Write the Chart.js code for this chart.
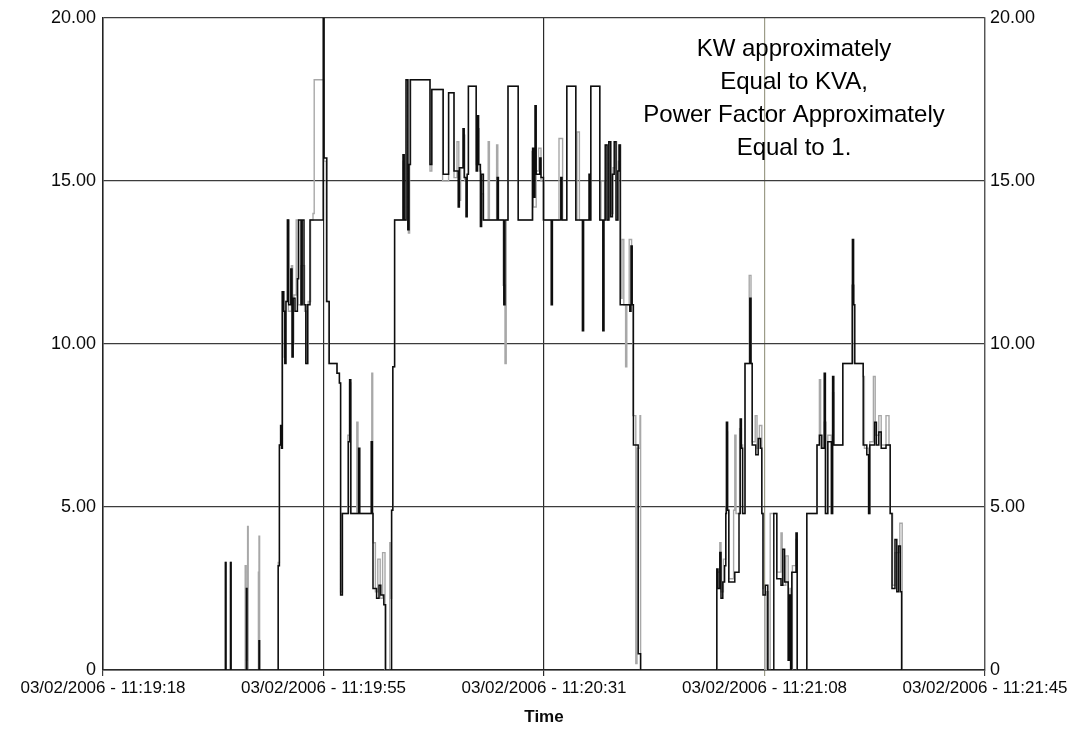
<!DOCTYPE html>
<html lang="en">
<head>
  <meta charset="UTF-8">
  <title>KW / KVA</title>
  <style>
    body {
      margin: 0;
      background-color: #fff;
    }
    #powerChart {
      display: block;
    }
  </style>
</head>
<body>

  <canvas id="powerChart" width="1087" height="732"></canvas>

  <script src="https://cdn.jsdelivr.net/npm/chart.js"></script>
  <script>
    // seconds after 11:19:18, value  (value holds until the next sample)
    const kwSamples = [
      [0, 0],
      [20.4, 3.3], [20.5, 0], [21.25, 3.3], [21.35, 0],
      [23.9, 2.5], [24.0, 0], [26.0, 0.9], [26.1, 0],
      [29.2, 3.2], [29.4, 6.9], [29.6, 7.5], [29.75, 6.8],
      [29.9, 11.6], [30.1, 11.0], [30.3, 9.4], [30.5, 11.3], [30.75, 13.8], [30.95, 11.2], [31.3, 12.3],
      [31.5, 9.6], [31.7, 11.4], [32.0, 11.0], [32.4, 12.0], [32.6, 13.8], [33.0, 11.2], [33.2, 13.8],
      [33.5, 11.2], [33.8, 9.4], [34.1, 11.2], [34.5, 13.8],
      [36.7, 20], [36.85, 15.7], [37.3, 11.3], [37.7, 9.4], [39.0, 9.1], [39.4, 8.8], [39.6, 2.3], [39.9, 4.8],
      [40.9, 7.0], [41.1, 8.9], [41.3, 4.8], [42.6, 6.8], [42.8, 4.8], [44.7, 7.0], [44.9, 4.8],
      [45.0, 2.5], [45.6, 2.2], [46.0, 2.6], [46.3, 2.3], [46.8, 2.0], [47.1, 0],
      [48.1, 4.9], [48.3, 9.3], [48.6, 13.8],
      [50.0, 15.8], [50.2, 13.8], [50.5, 18.1], [50.8, 13.5], [51.0, 15.5], [51.2, 18.1],
      [54.5, 15.5], [54.8, 17.8],
      [56.7, 15.2], [57.6, 17.7], [58.5, 15.3], [59.2, 14.2], [59.4, 15.4], [60.0, 16.6], [60.2, 15.1],
      [60.5, 13.9], [60.7, 15.2],
      [60.9, 17.9], [62.2, 15.3], [62.4, 17.0], [62.6, 15.5], [62.9, 13.6], [63.1, 15.2], [63.4, 13.8],
      [65.7, 15.1], [65.9, 13.8], [66.8, 11.2], [67.0, 13.8],
      [67.5, 17.9], [69.2, 13.8],
      [71.6, 16.0], [71.8, 14.5], [72.0, 17.3], [72.2, 15.2], [72.8, 15.7], [73.0, 15.1], [73.4, 13.8],
      [74.7, 11.2], [74.9, 13.8], [76.3, 15.1], [76.5, 13.8],
      [77.3, 17.9], [78.8, 13.8],
      [79.9, 10.4], [80.1, 13.8], [81.0, 15.2], [81.15, 13.8],
      [81.3, 17.9], [82.8, 13.8], [83.3, 10.4], [83.5, 13.8],
      [83.7, 16.1], [84.0, 13.8], [84.3, 16.2], [84.6, 13.9], [84.9, 15.2], [85.2, 16.2], [85.5, 13.8],
      [85.8, 15.3], [86.0, 16.1], [86.2, 11.2],
      [87.8, 11.0], [88.0, 13.0], [88.2, 11.2],
      [88.4, 6.9], [89.2, 0.5], [89.6, 0],
      [102.3, 3.1], [102.5, 2.5], [102.8, 3.6], [103.0, 2.2], [103.3, 2.7], [103.6, 3.2],
      [103.8, 4.8], [103.9, 7.6], [104.1, 4.9], [104.3, 2.7], [105.3, 3.0], [106.0, 4.8], [106.2, 7.7],
      [106.4, 6.8], [106.6, 4.8],
      [107.0, 9.4], [107.8, 11.4], [108.0, 9.4], [108.2, 6.9], [108.8, 6.6], [109.2, 7.1], [109.6, 6.8],
      [109.8, 4.8], [110.0, 2.3], [110.4, 2.6], [110.8, 0],
      [111.8, 4.8], [112.3, 2.8], [113.0, 2.6], [113.3, 3.7], [113.6, 2.7], [114.2, 0.3], [114.4, 2.3],
      [114.6, 0], [114.8, 3.0], [115.5, 4.2], [115.7, 0],
      [117.3, 4.8], [119.0, 6.9], [119.4, 7.2], [119.8, 6.8], [120.2, 9.1], [120.4, 4.8], [120.8, 7.0],
      [121.4, 4.8], [121.6, 9.0], [121.8, 6.9],
      [123.3, 9.4], [124.9, 13.2], [125.1, 11.2], [125.3, 9.4],
      [126.7, 6.9], [127.3, 6.6], [127.6, 4.8], [127.8, 6.9], [128.6, 7.6], [128.9, 6.9], [129.3, 7.3],
      [129.7, 6.8], [130.5, 6.9], [131.2, 4.8],
      [131.5, 2.5], [132.0, 4.0], [132.3, 2.4], [132.6, 3.8], [132.9, 2.4], [133.1, 0],
      [147, 0]
    ];

    const kvaSamples = [
      [0, 0],
      [20.4, 3.3], [20.5, 0], [21.25, 3.3], [21.35, 0],
      [23.7, 3.2], [23.85, 0.3], [24.1, 4.4], [24.2, 0],
      [25.9, 3.0], [26.0, 4.1], [26.1, 0],
      [29.2, 3.3], [29.4, 6.9], [29.8, 11.6], [30.2, 9.6], [30.4, 11.3], [30.7, 13.8], [30.9, 11.0],
      [31.4, 12.4], [31.6, 10.0], [31.8, 11.5], [32.2, 13.8], [32.5, 11.2], [33.0, 12.4], [33.6, 11.0],
      [34.0, 9.4], [34.2, 11.3], [34.6, 13.8], [35.0, 14.0], [35.2, 18.1], [36.8, 15.6], [37.2, 11.3],
      [37.6, 9.4],
      [39.0, 9.1], [39.4, 8.8], [39.6, 2.4], [39.9, 4.8],
      [40.8, 7.2], [41.1, 8.8], [41.3, 4.8], [42.3, 7.6], [42.5, 4.8], [44.8, 9.1], [44.95, 4.8],
      [45.0, 3.9], [45.4, 2.4], [45.8, 3.4], [46.2, 2.2], [46.6, 3.6], [47.0, 0],
      [47.8, 3.9], [48.0, 2.2], [48.1, 4.9], [48.3, 9.3], [48.6, 13.8],
      [50.0, 15.6], [50.2, 13.8], [50.6, 18.1], [50.9, 13.4], [51.1, 15.5], [51.3, 18.1],
      [54.5, 15.3], [54.8, 17.8],
      [56.6, 15.0], [57.6, 17.7], [58.5, 15.1], [59.0, 16.2], [59.3, 14.4], [59.6, 15.4], [60.1, 16.4],
      [60.3, 15.0], [60.7, 15.2],
      [60.9, 17.9], [62.2, 15.5], [62.5, 16.6], [62.7, 15.3], [63.0, 14.6], [63.4, 13.8],
      [64.2, 16.2], [64.4, 13.8], [65.6, 16.1], [65.8, 13.8], [66.7, 11.8], [67.0, 9.4], [67.2, 13.8],
      [67.5, 17.9], [69.2, 13.8],
      [71.5, 15.9], [71.7, 14.2], [72.2, 15.3], [72.6, 16.0], [73.0, 15.0], [73.5, 13.8],
      [76.0, 16.3], [76.6, 13.8],
      [77.3, 17.9], [78.8, 13.8], [79.0, 16.5], [79.4, 13.8],
      [81.3, 17.9], [82.8, 13.8], [83.0, 15.0], [83.6, 13.8],
      [83.8, 16.1], [84.1, 13.8], [84.4, 16.2], [84.7, 14.0], [85.0, 15.4], [85.3, 16.2], [85.6, 13.8],
      [85.9, 15.6], [86.1, 16.1], [86.3, 11.4],
      [86.5, 13.2], [86.8, 11.2], [87.1, 9.3], [87.3, 11.2], [87.7, 13.2], [88.1, 11.2],
      [88.3, 7.8], [88.8, 0.2], [89.0, 6.8], [89.5, 7.8], [89.6, 0],
      [102.3, 3.0], [102.8, 3.9], [103.0, 2.4], [103.4, 3.4], [103.8, 5.0], [103.95, 7.3], [104.1, 4.9],
      [104.3, 2.8], [105.1, 4.9], [105.3, 7.2], [105.5, 4.8], [106.1, 7.4], [106.4, 6.9], [106.6, 4.8],
      [107.0, 9.4], [107.7, 12.1], [108.0, 9.4], [108.2, 7.0], [108.7, 7.8], [109.0, 6.8], [109.4, 7.5],
      [109.8, 4.8], [110.0, 2.5], [110.3, 0], [110.6, 2.4], [110.9, 0],
      [111.2, 4.8], [112.3, 3.0], [113.0, 4.2], [113.2, 2.6], [113.8, 3.5], [114.2, 0.3], [114.5, 2.5],
      [114.7, 0], [114.9, 3.2], [115.5, 4.0], [115.7, 0],
      [117.3, 4.8], [119.0, 6.9], [119.4, 8.9], [119.6, 6.8], [120.2, 7.6], [120.5, 4.8], [120.8, 7.2],
      [121.4, 4.8], [121.6, 8.5], [121.8, 6.9],
      [123.3, 9.4], [124.8, 11.8], [125.2, 9.4],
      [126.7, 9.0], [126.9, 6.8], [127.6, 4.8], [127.8, 7.0], [128.4, 9.0], [128.7, 7.2], [129.3, 7.8],
      [129.7, 6.9], [130.5, 7.8], [131.0, 6.9], [131.2, 4.8],
      [131.6, 2.6], [132.0, 3.6], [132.8, 4.5], [133.2, 0],
      [147, 0]
    ];

    const xTickSeconds = [0, 36.75, 73.5, 110.25, 147];
    const xTickLabels = [
      '03/02/2006 - 11:19:18',
      '03/02/2006 - 11:19:55',
      '03/02/2006 - 11:20:31',
      '03/02/2006 - 11:21:08',
      '03/02/2006 - 11:21:45'
    ];
    const yTickValues = [0, 5, 10, 15, 20];
    const yTickLabels = ['0', '5.00', '10.00', '15.00', '20.00'];
    const noteLines = [
      'KW approximately',
      'Equal to KVA,',
      'Power Factor Approximately',
      'Equal to 1.'
    ];

    const FONT = 'Arial, "Liberation Sans", sans-serif';
    Chart.defaults.font.family = FONT;
    Chart.defaults.color = '#0a0a0a';

    function toPoints(samples) {
      return samples.map(([x, y]) => ({ x, y }));
    }

    function yLabel(value) {
      const i = yTickValues.indexOf(value);
      return i >= 0 ? yTickLabels[i] : '';
    }

    // text box in the upper right of the plot
    const notePlugin = {
      id: 'note',
      afterDatasetsDraw(chart) {
        const { ctx, chartArea } = chart;
        ctx.save();
        ctx.font = '24px ' + FONT;
        ctx.fillStyle = '#000';
        ctx.textAlign = 'center';
        ctx.textBaseline = 'middle';
        const cx = chartArea.left + 691;
        noteLines.forEach((line, i) => {
          ctx.fillText(line, cx, chartArea.top + 32 + i * 33);
        });
        ctx.restore();
      }
    };

    const gridColor = '#3c3c3c';
    // the last inner time line is printed lighter
    const xGridColors = ['#3c3c3c', '#2a2a2a', '#2a2a2a', '#9c9c88', '#3c3c3c'];

    new Chart(document.getElementById('powerChart'), {
      type: 'line',
      data: {
        datasets: [
          {
            label: 'KW',
            data: toPoints(kwSamples),
            borderColor: '#0d0d0d',
            borderWidth: 1.5,
            stepped: true,
            pointRadius: 0,
            fill: false
          },
          {
            label: 'KVA',
            data: toPoints(kvaSamples),
            borderColor: '#a8a8a8',
            borderWidth: 1.4,
            stepped: true,
            pointRadius: 0,
            fill: false
          }
        ]
      },
      options: {
        responsive: false,
        animation: false,
        layout: { padding: { top: 15, left: 0, right: 0, bottom: 0 } },
        plugins: {
          legend: { display: false },
          tooltip: { enabled: false }
        },
        scales: {
          x: {
            type: 'linear',
            min: 0,
            max: 147,
            afterBuildTicks(scale) {
              scale.ticks = xTickSeconds.map(v => ({ value: v }));
            },
            afterFit(scale) {
              scale.height = 62;
              scale.paddingLeft = 0;
              scale.paddingRight = 0;
            },
            ticks: {
              autoSkip: false,
              maxRotation: 0,
              padding: 2,
              font: { size: 17 },
              callback: (value, i) => xTickLabels[i]
            },
            grid: {
              color: ctx => xGridColors[ctx.index] || gridColor,
              lineWidth: 1.2,
              tickLength: 6
            },
            border: { color: '#222', width: 1.5 },
            title: {
              display: true,
              text: 'Time',
              font: { size: 17, weight: 'bold' },
              padding: { top: 0, bottom: 4 }
            }
          },
          y: {
            position: 'left',
            min: 0,
            max: 20,
            afterFit(scale) { scale.width = 103; },
            ticks: { stepSize: 5, padding: 7, font: { size: 18 }, callback: yLabel },
            grid: { color: gridColor, lineWidth: 1.3, drawTicks: false },
            border: { color: '#222', width: 1.5 }
          },
          y2: {
            position: 'right',
            min: 0,
            max: 20,
            afterFit(scale) { scale.width = 102; },
            ticks: { stepSize: 5, padding: 5, font: { size: 18 }, callback: yLabel },
            grid: { display: false, drawTicks: false },
            border: { color: '#555', width: 1.3 }
          }
        }
      },
      plugins: [notePlugin]
    });
  </script>
</body>
</html>
